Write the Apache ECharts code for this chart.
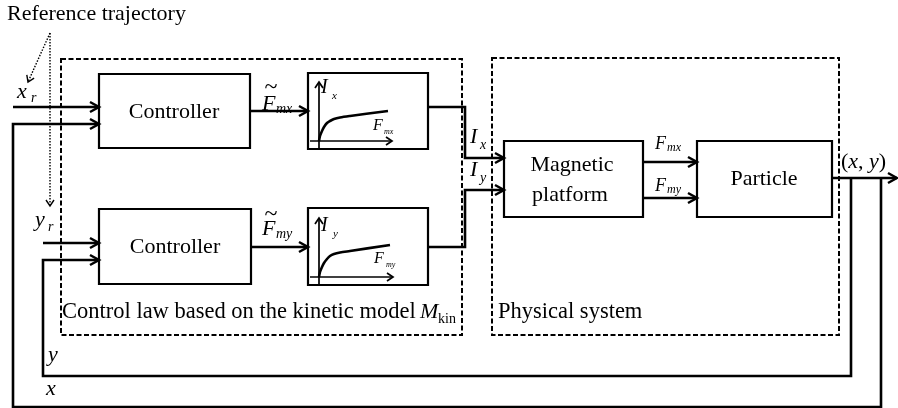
<!DOCTYPE html>
<html><head><meta charset="utf-8">
<script src="https://cdn.jsdelivr.net/npm/echarts@6/dist/echarts.min.js"></script>
<style>html,body{margin:0;padding:0;background:#fff}#c{width:898px;height:408px}</style>
</head><body><div id="c"></div>
<script>
// Diagram coordinate space: x 0..898, y 0..408 (downwards)
const blocks = [ // [x0,y0,x1,y1]
  [99,74,250,148],   // Controller x
  [99,209,251,284],  // Controller y
  [308,73,428,149],  // map F->I (x)
  [308,208,428,285], // map F->I (y)
  [504,141,643,217], // Magnetic platform
  [697,141,832,217]  // Particle
];
const groups = [ // dashed frames
  [61,59,462,335],
  [492,58,839,335]
];
const wires = [ // polylines, last point gets an arrow if arrow=true
  {pts:[[13,107],[99,107]], arrow:true},
  {pts:[[881,178],[881,407],[13,407],[13,124],[99,124]], arrow:true},
  {pts:[[43,243],[99,243]], arrow:true},
  {pts:[[851,178],[851,376],[43,376],[43,260],[99,260]], arrow:true},
  {pts:[[250,111],[308,111]], arrow:true},
  {pts:[[251,247],[308,247]], arrow:true},
  {pts:[[428,107],[465,107],[465,158],[504,158]], arrow:true},
  {pts:[[428,247],[465,247],[465,190],[504,190]], arrow:true},
  {pts:[[643,162],[697,162]], arrow:true},
  {pts:[[643,198],[697,198]], arrow:true},
  {pts:[[832,178],[897,178]], arrow:true}
];
const dotted = [
  [[50,33],[28,82]],
  [[50,33],[50,206]]
];
const miniAxes = [
  [[319,148],[319,82]], [[310,141],[392,141]],
  [[319,284],[319,218]], [[310,277],[393,277]]
];
const curves = [
  [[319,141],[320,136],[322,131],[324,127],[327,123],[330,121],[334,119],[340,117.5],[350,116],[388,111]],
  [[319,277],[320,272],[322,267],[324,263],[327,259],[330,256],[334,254],[340,252.5],[350,251],[390,245]]
];
const texts = [ // [text, x, yMiddle, size, italic, align]
  ['Reference trajectory', 7, 14, 22, false, 'left'],
  ['Controller', 174, 112, 22, false, 'center'],
  ['Controller', 175, 247, 22, false, 'center'],
  ['Magnetic', 572, 165, 22, false, 'center'],
  ['platform', 570, 195, 22, false, 'center'],
  ['Particle', 764, 179, 22, false, 'center'],
  ['Control law based on the kinetic model', 62, 312, 22.5, false, 'left'],
  ['M', 420, 312, 22, true, 'left'],
  ['kin', 438, 319, 14, false, 'left'],
  ['Physical system', 498, 312, 22.5, false, 'left'],
  ['x', 17, 92, 22, true, 'left'],
  ['r', 31, 98, 14, true, 'left'],
  ['y', 35, 220, 22, true, 'left'],
  ['r', 48, 227, 14, true, 'left'],
  ['y', 48, 355, 22, true, 'left'],
  ['x', 46, 389, 22, true, 'left'],
  ['~', 271, 88, 24, false, 'center'],
  ['F', 262, 104, 22, true, 'left'],
  ['mx', 276, 109, 14, true, 'left'],
  ['~', 271, 215, 24, false, 'center'],
  ['F', 262, 229, 22, true, 'left'],
  ['my', 276, 234, 14, true, 'left'],
  ['I', 470, 137, 22, true, 'left'],
  ['x', 480, 145, 14, true, 'left'],
  ['I', 470, 170, 22, true, 'left'],
  ['y', 480, 178, 14, true, 'left'],
  ['F', 655, 144, 18, true, 'left'],
  ['mx', 667, 148, 12, true, 'left'],
  ['F', 655, 186, 18, true, 'left'],
  ['my', 667, 190, 12, true, 'left'],
  ['I', 321, 88, 20, true, 'left'],
  ['x', 332, 96, 11, true, 'left'],
  ['F', 373, 126, 16, true, 'left'],
  ['mx', 384, 132, 8, true, 'left'],
  ['I', 321, 226, 20, true, 'left'],
  ['y', 333, 234, 11, true, 'left'],
  ['F', 374, 259, 16, true, 'left'],
  ['my', 386, 265, 8, true, 'left']
];
const outputLabel = ['(', 'x', ', ', 'y', ')'];

const FAM = '"Liberation Serif","Times New Roman",serif';
function chevron(tip, from, L, W) {
  const dx = tip[0]-from[0], dy = tip[1]-from[1];
  const len = Math.hypot(dx, dy) || 1;
  const ux = dx/len, uy = dy/len, nx = -uy, ny = ux;
  return [[tip[0]-L*ux+W*nx, tip[1]-L*uy+W*ny], tip, [tip[0]-L*ux-W*nx, tip[1]-L*uy-W*ny]];
}
function idx(arr){ return arr.map((_, i) => [i, 0]); }

const chart = echarts.init(document.getElementById('c'), null, {renderer:'canvas'});
chart.setOption({
  animation: false,
  backgroundColor: '#fff',
  grid: {left:0, right:0, top:0, bottom:0},
  xAxis: {type:'value', min:0, max:898, show:false},
  yAxis: {type:'value', min:0, max:408, inverse:true, show:false},
  series: [
    { type:'custom', data: idx(groups), silent:true,
      renderItem: (p, api) => {
        const g = groups[p.dataIndex];
        const a = api.coord([g[0], g[1]]), b = api.coord([g[2], g[3]]);
        return {type:'rect', shape:{x:a[0], y:a[1], width:b[0]-a[0], height:b[1]-a[1]},
          style:{fill:null, stroke:'#000', lineWidth:2, lineDash:[5,2.5]}};
      }},
    { type:'custom', data: idx(blocks), silent:true,
      renderItem: (p, api) => {
        const g = blocks[p.dataIndex];
        const a = api.coord([g[0], g[1]]), b = api.coord([g[2], g[3]]);
        return {type:'rect', shape:{x:a[0], y:a[1], width:b[0]-a[0], height:b[1]-a[1]},
          style:{fill:'#fff', stroke:'#000', lineWidth:2.2}};
      }},
    { type:'custom', data: idx(wires), silent:true,
      renderItem: (p, api) => {
        const w = wires[p.dataIndex];
        const pts = w.pts.map(q => api.coord(q));
        const ch = [{type:'polyline', shape:{points:pts}, style:{fill:null, stroke:'#000', lineWidth:2.6, lineJoin:'miter'}}];
        if (w.arrow) {
          const n = pts.length;
          ch.push({type:'polyline', shape:{points:chevron(pts[n-1], pts[n-2], 9, 5)}, style:{fill:null, stroke:'#000', lineWidth:2.5}});
        }
        return {type:'group', children:ch};
      }},
    { type:'custom', data: idx(dotted), silent:true,
      renderItem: (p, api) => {
        const pts = dotted[p.dataIndex].map(q => api.coord(q));
        return {type:'group', children:[
          {type:'polyline', shape:{points:pts}, style:{fill:null, stroke:'#000', lineWidth:1.4, lineDash:[1.5,1.5]}},
          {type:'polyline', shape:{points:chevron(pts[1], pts[0], 6, 4)}, style:{fill:null, stroke:'#000', lineWidth:1.4}}
        ]};
      }},
    { type:'custom', data: idx(miniAxes), silent:true,
      renderItem: (p, api) => {
        const pts = miniAxes[p.dataIndex].map(q => api.coord(q));
        return {type:'group', children:[
          {type:'polyline', shape:{points:pts}, style:{fill:null, stroke:'#000', lineWidth:1.7}},
          {type:'polyline', shape:{points:chevron(pts[1], pts[0], 6, 4)}, style:{fill:null, stroke:'#000', lineWidth:1.7}}
        ]};
      }},
    { type:'custom', data: idx(curves), silent:true,
      renderItem: (p, api) => {
        const pts = curves[p.dataIndex].map(q => api.coord(q));
        return {type:'polyline', shape:{points:pts, smooth:0.3}, style:{fill:null, stroke:'#000', lineWidth:2.6}};
      }},
    { type:'custom', data: idx(texts), silent:true,
      renderItem: (p, api) => {
        const t = texts[p.dataIndex];
        const c = api.coord([t[1], t[2]]);
        return {type:'text', x:c[0], y:c[1], style:{text:t[0], fill:'#000',
          font:(t[4]?'italic ':'') + t[3] + 'px ' + FAM, align:t[5], verticalAlign:'middle'}};
      }},
    { type:'custom', data: [[841,162]], silent:true,
      renderItem: (p, api) => {
        const c = api.coord([api.value(0), api.value(1)]);
        const s = outputLabel.map((s, i) => '{' + (i % 2 ? 'b' : 'a') + '|' + s + '}').join('');
        return {type:'text', x:c[0], y:c[1], style:{text:s, fill:'#000', align:'left', verticalAlign:'middle',
          rich:{a:{fontFamily:FAM, fontSize:22, fill:'#000'}, b:{fontFamily:FAM, fontSize:22, fontStyle:'italic', fill:'#000'}}}};
      }}
  ]
});
</script></body></html>
